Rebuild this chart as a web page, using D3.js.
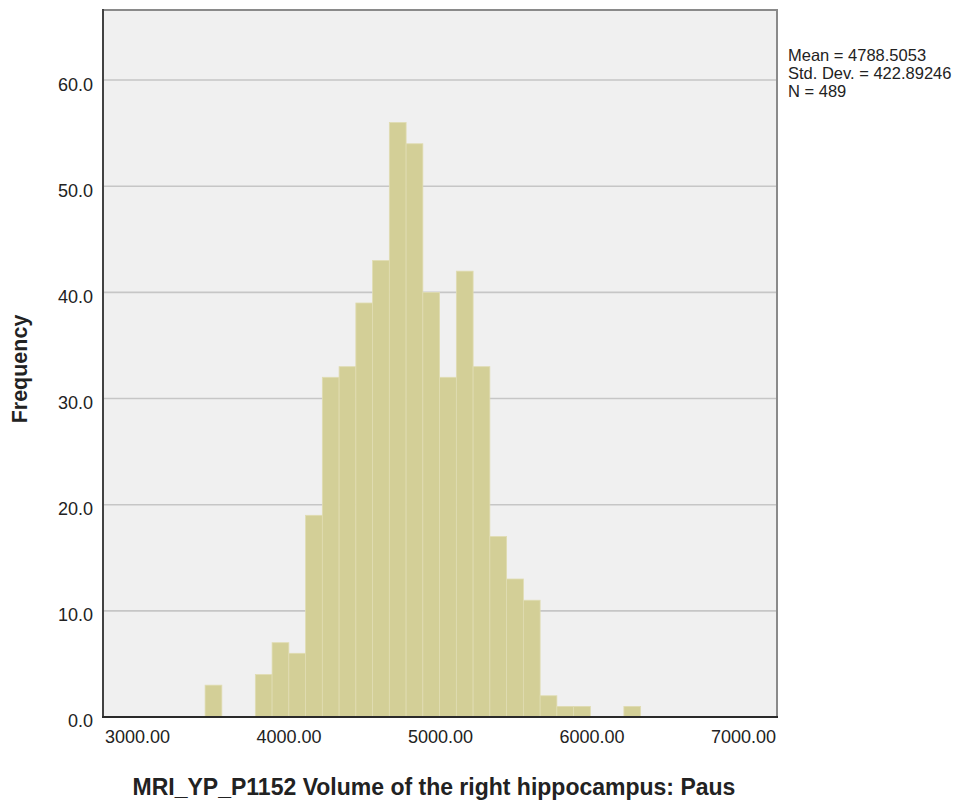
<!DOCTYPE html>
<html>
<head>
<meta charset="utf-8">
<script src="https://cdn.jsdelivr.net/npm/d3@7"></script>
<style>
  html, body { margin: 0; padding: 0; background: #ffffff; }
  svg { display: block; }
  text { font-family: "Liberation Sans", Arial, sans-serif; fill: #222; }
</style>
</head>
<body>
<svg id="chart" width="973" height="805"></svg>
<script>
// ---- data ----
const binStart = 3449;       // lower edge of first bin (data units)
const binWidth = 110.6;      // bin width (data units)
const counts = [3, 0, 0, 4, 7, 6, 19, 32, 33, 39, 43, 56, 54, 40, 32, 42, 33, 17, 13, 11, 2, 1, 1, 0, 0, 1];
const xTicks = [3000, 4000, 5000, 6000, 7000];
const yTicks = [0, 10, 20, 30, 40, 50, 60];
const xDomain = [2775, 7225];
const yDomain = [0, 66.6];
const statsLines = ["Mean = 4788.5053", "Std. Dev. = 422.89246", "N = 489"];
const xTitle = "MRI_YP_P1152 Volume of the right hippocampus: Paus";
const yTitle = "Frequency";

// ---- layout ----
const svg = d3.select("#chart");
const L = 103, R = 777, T = 10, B = 717;
const x = d3.scaleLinear().domain(xDomain).range([L, R]);
const y = d3.scaleLinear().domain(yDomain).range([B, T]);

const bins = counts.map((c, i) => ({ x0: binStart + i * binWidth, x1: binStart + (i + 1) * binWidth, n: c }));

// plot background
svg.append("rect").attr("x", L).attr("y", T).attr("width", R - L).attr("height", B - T)
  .attr("fill", "#f0f0f0");

// gridlines
svg.append("g").selectAll("line").data(yTicks.filter(d => d > 0)).join("line")
  .attr("x1", L).attr("x2", R)
  .attr("y1", d => y(d)).attr("y2", d => y(d))
  .attr("stroke", "#c6c6c6").attr("stroke-width", 1.6);

// bars
svg.append("g").selectAll("rect").data(bins.filter(b => b.n > 0)).join("rect")
  .attr("x", b => x(b.x0)).attr("width", b => x(b.x1) - x(b.x0))
  .attr("y", b => y(b.n)).attr("height", b => y(0) - y(b.n))
  .attr("fill", "#d3cf97").attr("stroke", "#e0dcb2").attr("stroke-width", 0.8);

// frame
svg.append("rect").attr("x", L).attr("y", T).attr("width", R - L).attr("height", B - T)
  .attr("fill", "none").attr("stroke", "#8a8a8a").attr("stroke-width", 2);
svg.append("line").attr("x1", L).attr("x2", L).attr("y1", T - 1).attr("y2", B + 1)
  .attr("stroke", "#3a3a3a").attr("stroke-width", 1.8);
svg.append("line").attr("x1", L - 1).attr("x2", R + 1).attr("y1", B).attr("y2", B)
  .attr("stroke", "#2a2a2a").attr("stroke-width", 1.8);

// y axis labels
const yAxis = d3.axisLeft(y).tickValues(yTicks).tickFormat(d3.format(".1f")).tickSize(0).tickPadding(10);
const gy = svg.append("g").attr("transform", `translate(${L},0)`).call(yAxis);
gy.select(".domain").remove();
gy.selectAll("text").attr("font-size", 18).attr("dy", "0.72em").attr("transform", "translate(0,-3)")
  .style("font-family", "'Liberation Sans', Arial, sans-serif").attr("fill", "#222");

// x axis labels
const xAxis = d3.axisBottom(x).tickValues(xTicks).tickFormat(d3.format(".2f")).tickSize(0).tickPadding(13);
const gx = svg.append("g").attr("transform", `translate(0,${B})`).call(xAxis);
gx.select(".domain").remove();
gx.selectAll("text").attr("font-size", 18)
  .style("font-family", "'Liberation Sans', Arial, sans-serif").attr("fill", "#222");

// titles
svg.append("text").attr("x", (L + R) / 2 - 6).attr("y", 795).attr("text-anchor", "middle")
  .attr("font-size", 23).attr("font-weight", "bold").attr("fill", "#111").text(xTitle);
svg.append("text").attr("transform", `translate(27,369) rotate(-90)`).attr("text-anchor", "middle")
  .attr("font-size", 21.5).attr("font-weight", "bold").attr("fill", "#111").text(yTitle);

// stats
svg.append("g").selectAll("text").data(statsLines).join("text")
  .attr("x", 788).attr("y", (d, i) => 61 + i * 18)
  .attr("font-size", 16.5).attr("fill", "#222").text(d => d);
</script>
</body>
</html>
